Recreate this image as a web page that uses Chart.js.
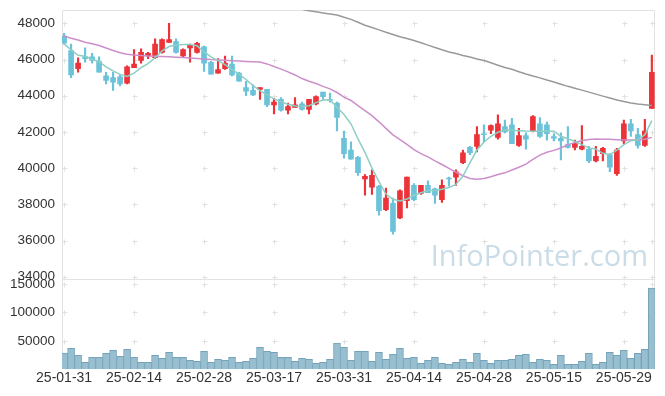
<!DOCTYPE html>
<html>
<head>
<meta charset="utf-8">
<title>Price chart</title>
<script src="https://cdn.jsdelivr.net/npm/chart.js@4.4.1/dist/chart.umd.min.js"></script>
<style>
  html, body { margin: 0; padding: 0; background: #fff; }
  #wrap { width: 665px; height: 396px; }
</style>
</head>
<body>
<div id="wrap"><canvas id="chart" width="665" height="396"></canvas></div>
<script>
// trading days (YY-MM-DD)
const dates = [
  '25-01-31','25-02-03','25-02-04','25-02-05','25-02-06','25-02-07','25-02-10','25-02-11','25-02-12','25-02-13',
  '25-02-14','25-02-17','25-02-18','25-02-19','25-02-20','25-02-21','25-02-24','25-02-25','25-02-26','25-02-27',
  '25-02-28','25-03-04','25-03-05','25-03-06','25-03-07','25-03-10','25-03-11','25-03-12','25-03-13','25-03-14',
  '25-03-17','25-03-18','25-03-19','25-03-20','25-03-21','25-03-24','25-03-25','25-03-26','25-03-27','25-03-28',
  '25-03-31','25-04-01','25-04-02','25-04-03','25-04-04','25-04-07','25-04-08','25-04-09','25-04-10','25-04-11',
  '25-04-14','25-04-15','25-04-16','25-04-17','25-04-18','25-04-21','25-04-22','25-04-23','25-04-24','25-04-25',
  '25-04-28','25-04-29','25-04-30','25-05-02','25-05-07','25-05-08','25-05-09','25-05-12','25-05-13','25-05-14',
  '25-05-15','25-05-16','25-05-19','25-05-20','25-05-21','25-05-22','25-05-23','25-05-26','25-05-27','25-05-28',
  '25-05-29','25-05-30','25-06-02','25-06-04','25-06-05'
];

const openP = [
  47300,46500,45500,46150,46150,45900,45100,45000,45050,44700,
  45550,45950,46200,46100,46400,46950,47000,46200,46650,46400,
  46700,45850,45250,45500,45750,45250,44450,44300,44350,44350,
  43500,43800,43200,43350,43550,43250,43550,44200,43800,43600,
  41650,41000,40600,39400,38950,39000,37700,38050,37250,38200,
  39050,38600,39050,38850,38250,39450,39500,40300,41150,41200,
  41900,42100,41700,42300,42400,41250,41800,42050,42450,42400,
  41750,41650,41300,41150,41050,41050,40400,40800,40750,39700,
  41500,42450,41850,41250,43300
];
const highP = [
  47450,46850,46100,46650,46350,46150,45300,45300,45150,45650,
  46550,46600,46400,47150,47150,48000,47150,46600,46850,46950,
  46750,45900,46050,46200,46200,45300,44800,44600,44450,44350,
  43850,43900,43600,43900,43650,43800,44000,44200,44150,43650,
  42050,41450,40650,39650,39900,39050,38900,38350,38800,39500,
  39150,39050,39300,38900,39350,39500,39900,41000,41200,42300,
  42400,42400,42950,42650,42750,42200,41950,42900,42800,42550,
  41900,41950,42300,41550,42350,41200,41200,41150,40800,41100,
  42650,42700,42200,42700,46250
];
const lowP = [
  46850,45000,45300,45850,45800,45300,44650,44300,44550,44650,
  45550,45800,46050,46050,46350,46950,46350,46150,45850,46350,
  45350,45200,45250,45450,45100,44800,44000,44000,43800,43400,
  43000,43150,43000,43350,43200,43000,43500,43750,43650,42050,
  40550,40500,39600,38500,38550,37400,37650,36350,37200,37800,
  38200,38550,38650,38050,38100,39000,39050,40250,40750,40900,
  41450,41900,41600,41950,41350,41200,41050,42000,41700,41550,
  41500,40450,41100,41000,41000,40300,40350,40400,39800,39600,
  41350,41750,41100,41200,43300
];
const closeP = [
  46900,45150,45800,46050,45950,45300,44850,44750,44650,45600,
  45750,46400,46350,46850,47100,47100,46400,46550,46800,46900,
  45800,45200,45450,45800,45150,44800,44250,44050,44450,43500,
  43650,43200,43400,43500,43250,43800,43950,43950,43750,42800,
  40800,40500,39750,39550,39600,37650,38350,36500,38750,39500,
  38250,39050,38650,38500,39050,39400,39800,40850,40850,41850,
  41850,42350,42450,42000,41350,41800,41600,42850,41750,41900,
  41650,41500,41150,41350,41200,40400,40650,41100,40050,41000,
  42450,42050,41250,42050,45300
];

// moving averages as drawn on the chart
const ma5 = [
  46870,46540,46240,46180,46020,45880,45600,45380,45180,45070,
  45250,45550,45780,46100,46480,46720,46800,46830,46830,46760,
  46430,46150,45940,45720,45440,45190,44900,44560,44290,44050,
  43830,43660,43530,43430,43410,43450,43620,43760,43780,43360,
  42960,42450,41620,40870,40000,39250,38570,38280,38180,38290,
  38500,38640,38760,38770,38830,38930,39100,39560,40290,41000,
  41430,41760,41980,42100,42090,42070,42050,42040,42040,42040,
  42040,41760,41620,41480,41300,41120,41050,40820,40750,40990,
  41300,41520,41550,41850,42630
];
const ma20 = [
  47300,47180,47080,46960,46880,46780,46640,46500,46380,46300,
  46250,46220,46200,46190,46170,46150,46130,46110,46090,46060,
  46030,46000,45980,45960,45940,45920,45900,45880,45860,45760,
  45620,45470,45320,45150,44950,44800,44680,44520,44380,44180,
  43920,43740,43450,43180,42900,42560,42200,41840,41580,41310,
  41020,40800,40620,40400,40200,39990,39780,39580,39430,39390,
  39430,39520,39650,39740,39900,40050,40220,40480,40720,40880,
  40980,41110,41300,41410,41530,41580,41610,41600,41590,41570,
  41550,41550,41550,41600,41700
];
const ma60 = [
  null,null,null,null,null,null,null,null,null,null,
  null,null,null,null,null,null,null,null,null,null,
  null,null,null,null,null,null,null,null,null,null,
  null,null,null,48900,48780,48700,48640,48580,48520,48460,
  48340,48220,48060,47900,47770,47640,47510,47390,47260,47160,
  47050,46930,46800,46670,46540,46420,46330,46230,46140,46030,
  45950,45820,45690,45560,45460,45330,45200,45090,44990,44870,
  44760,44640,44520,44420,44310,44200,44090,43980,43880,43770,
  43680,43600,43540,43500,43460
];

const volume = [
  28400,36600,24400,12200,20900,20900,27900,33100,22700,34800,
  20900,12200,12200,24400,19200,29600,20900,20900,15600,13900,
  31400,12200,17400,15600,20900,12200,13900,19200,38300,31400,
  29600,20900,20900,13900,19200,17400,10500,12200,17400,45800,
  38300,15600,31400,31400,13900,29600,17400,26100,36600,19200,
  20900,10500,15600,20900,10500,8700,12200,17400,12200,27900,
  15600,10500,15600,15600,17400,24400,26100,12200,17400,15600,
  8700,24400,8700,8700,13900,27900,8700,12200,29600,24400,
  33100,19200,27900,34800,142800
];

const priceTicks = [34000, 36000, 38000, 40000, 42000, 44000, 46000, 48000];
const volumeTicks = [50000, 100000, 150000];
const dateTicks = [0, 10, 20, 30, 40, 50, 60, 70, 80];

const upColor = '#ec3339';
const downColor = '#6cc3d9';
function candleColor(ctx) {
  const i = ctx.dataIndex;
  return closeP[i] >= openP[i] ? upColor : downColor;
}

const wicks = dates.map((d, i) => ({ x: i, y: [lowP[i], highP[i]] }));
const bodies = dates.map((d, i) => ({ x: i, y: [openP[i], closeP[i]] }));
const vols = volume.map((v, i) => ({ x: i, y: v }));
const toPts = arr => arr.map((v, i) => ({ x: i, y: v }));

// frame, '+' grid marks and watermark
const backdrop = {
  id: 'backdrop',
  beforeDatasetsDraw(chart) {
    const ctx = chart.ctx;
    const a = chart.chartArea;
    const sx = chart.scales.x, sy = chart.scales.y, sv = chart.scales.yv;
    ctx.save();
    const mark = 'InfoPointer.com';
    ctx.font = '30px "Open Sans", "Liberation Sans", sans-serif';
    const fs = 30 * 217 / ctx.measureText(mark).width;
    ctx.font = fs.toFixed(1) + 'px "Open Sans", "Liberation Sans", sans-serif';
    ctx.fillStyle = '#c9dce7';
    ctx.textAlign = 'right';
    ctx.textBaseline = 'alphabetic';
    ctx.fillText(mark, 648, 266);

    ctx.strokeStyle = '#e0e0e0';
    ctx.lineWidth = 1;
    const xs = dateTicks.concat([dates.length - 1]).map(i => Math.round(sx.getPixelForValue(i)) + 0.5);
    const marks = [];
    priceTicks.forEach(v => marks.push(Math.round(sy.getPixelForValue(v)) + 0.5));
    volumeTicks.forEach(v => marks.push(Math.round(sv.getPixelForValue(v)) + 0.5));
    ctx.beginPath();
    marks.forEach(y => {
      xs.forEach(x => {
        ctx.moveTo(x - 2, y); ctx.lineTo(x + 3, y);
        ctx.moveTo(x, y - 2); ctx.lineTo(x, y + 3);
      });
    });
    ctx.stroke();

    ctx.strokeStyle = '#e2e2e2';
    ctx.beginPath();
    const l = Math.round(a.left) + 0.5, r = Math.round(a.right) - 0.5;
    const t = Math.round(a.top) + 0.5, b = Math.round(a.bottom) - 0.5;
    const mid = Math.round(sy.bottom) + 0.5;
    ctx.moveTo(l, t); ctx.lineTo(r, t); ctx.lineTo(r, b);
    ctx.moveTo(l, t); ctx.lineTo(l, b);
    ctx.moveTo(l, mid); ctx.lineTo(r, mid);
    ctx.stroke();
    ctx.restore();
  }
};

// y axes: fixed width, no label overhang padding
function fitY(s) {
  s.width = 62;
  s.paddingTop = 0;
  s.paddingBottom = 0;
}

Chart.defaults.font.family = '"Liberation Sans", Arial, sans-serif';
Chart.defaults.color = '#333';

const chart = new Chart(document.getElementById('chart'), {
  type: 'bar',
  data: {
    datasets: [
      { type: 'line', label: 'MA5', data: toPts(ma5), yAxisID: 'y', borderColor: '#8ecfc5', borderWidth: 1.5, pointRadius: 0, order: 1 },
      { type: 'line', label: 'MA20', data: toPts(ma20), yAxisID: 'y', borderColor: '#cc8fca', borderWidth: 1.5, pointRadius: 0, order: 1 },
      { type: 'line', label: 'MA60', data: toPts(ma60), yAxisID: 'y', borderColor: '#9a9a9a', borderWidth: 1.5, pointRadius: 0, order: 1 },
      { type: 'bar', label: 'body', data: bodies, yAxisID: 'y', barThickness: 5, backgroundColor: candleColor, grouped: false, order: 2 },
      { type: 'bar', label: 'wick', data: wicks, yAxisID: 'y', barThickness: 1.5, backgroundColor: candleColor, grouped: false, order: 3 },
      { type: 'bar', label: 'volume', data: vols, yAxisID: 'yv', barThickness: 7, backgroundColor: '#98bfcf', borderColor: '#74a3b9', borderWidth: 1, grouped: false, order: 4 }
    ]
  },
  options: {
    responsive: false,
    animation: false,
    devicePixelRatio: 1,
    layout: { padding: { top: 10, right: 10, left: 0, bottom: 8 } },
    plugins: { legend: { display: false }, tooltip: { enabled: false } },
    scales: {
      x: {
        type: 'linear',
        min: -0.3,
        max: 84.45,
        offset: false,
        grid: { display: false, drawTicks: false },
        border: { display: false },
        afterBuildTicks: s => { s.ticks = dateTicks.map(v => ({ value: v })); },
        afterFit: s => { s.paddingLeft = 0; s.paddingRight = 0; },
        ticks: {
          autoSkip: false, maxRotation: 0, padding: 1,
          font: { size: 14 }, color: '#333',
          callback: v => dates[v]
        }
      },
      y: {
        type: 'linear',
        position: 'left',
        stack: 'main',
        stackWeight: 3,
        weight: 2,
        min: 33850,
        max: 48740,
        grid: { display: false, drawTicks: false },
        border: { display: false },
        afterBuildTicks: s => { s.ticks = priceTicks.map(v => ({ value: v })); },
        afterFit: fitY,
        ticks: { padding: 7, font: { size: 13.5 }, color: '#333', callback: v => String(v) }
      },
      yv: {
        type: 'linear',
        position: 'left',
        stack: 'main',
        stackWeight: 1,
        weight: 1,
        min: 0,
        max: 158000,
        grid: { display: false, drawTicks: false },
        border: { display: false },
        afterBuildTicks: s => { s.ticks = volumeTicks.map(v => ({ value: v })); },
        afterFit: fitY,
        ticks: { padding: 7, font: { size: 13.5 }, color: '#333', callback: v => String(v) }
      }
    }
  },
  plugins: [backdrop]
});
</script>
</body>
</html>
